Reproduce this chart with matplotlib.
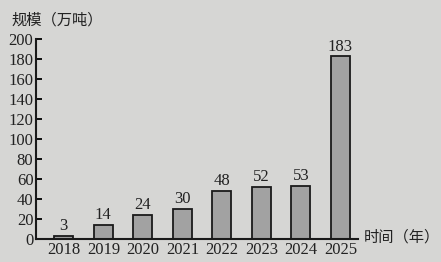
import matplotlib.pyplot as plt

# Data
years = ["2018", "2019", "2020", "2021", "2022", "2023", "2024", "2025"]
values = [3, 14, 24, 30, 48, 52, 53, 183]
y_ticks = [0, 20, 40, 60, 80, 100, 120, 140, 160, 180, 200]

bg = "#d6d6d4"
serif = "Liberation Serif"
cjk = ["Noto Sans CJK SC", "DejaVu Sans"]

fig = plt.figure(figsize=(4.41, 2.62), dpi=100, facecolor=bg)
ax = fig.add_axes([0.082, 0.088, 0.730, 0.763])
ax.set_facecolor(bg)

x = range(len(years))
ax.bar(x, values, width=0.48, color="#a2a2a2", edgecolor="#1a1a1a", linewidth=1.3)

# value labels
for i, v in zip(x, values):
    ax.text(i, v + 1.5, str(v), ha="center", va="bottom",
            fontsize=12, family=serif, color="#222222")

ax.set_xlim(-0.7, 7.45)
ax.set_ylim(0, 200)
ax.set_xticks(list(x))
ax.set_xticklabels(years, family=serif, fontsize=12, color="#222222")
ax.set_yticks(y_ticks)
ax.set_yticklabels([str(t) for t in y_ticks], family=serif, fontsize=12, color="#222222")

ax.tick_params(axis="y", direction="in", length=4, width=1.3, pad=2)
ax.tick_params(axis="x", length=0, pad=2)

for side in ["top", "right"]:
    ax.spines[side].set_visible(False)
for side in ["left", "bottom"]:
    ax.spines[side].set_linewidth(1.5)
    ax.spines[side].set_color("#1a1a1a")

fig.text(0.027, 0.925, "规模（万吨）", family=cjk, fontsize=11, color="#222222",
         va="center", ha="left")
fig.text(0.825, 0.095, "时间（年）", family=cjk, fontsize=11, color="#222222",
         va="center", ha="left")

fig.savefig("out.png", dpi=100, facecolor=bg)
